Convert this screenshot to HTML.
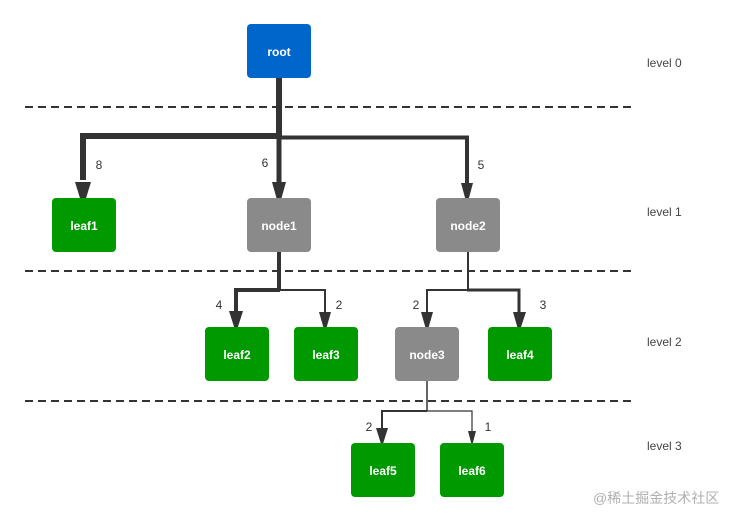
<!DOCTYPE html>
<html><head><meta charset="utf-8"><style>
html,body{margin:0;padding:0;background:#fff;}
svg{display:block;}
.b{font-family:"Liberation Sans",sans-serif;font-weight:bold;font-size:12px;fill:#fff;text-anchor:middle;}
.n{font-family:"Liberation Sans",sans-serif;font-size:12px;fill:#333;text-anchor:middle;}
.l{font-family:"Liberation Sans",sans-serif;font-size:12px;fill:#444;}
</style></head><body>
<svg width="750" height="521" viewBox="0 0 750 521" xmlns="http://www.w3.org/2000/svg">
<g stroke="#333" stroke-width="2" stroke-dasharray="8,5" fill="none">
<line x1="25" y1="107" x2="632" y2="107"/>
<line x1="25" y1="271" x2="632" y2="271"/>
<line x1="25" y1="401" x2="632" y2="401"/>
</g>
<g fill="none" stroke="#333" stroke-linejoin="miter">
<!-- root -->
<path d="M279 78 V136" stroke-width="6"/>
<path d="M282 136 H83 V180" stroke-width="6"/>
<path d="M279 136 V182" stroke-width="5"/>
<path d="M279 137.5 H467 V184" stroke-width="4"/>
<!-- node1 -->
<path d="M279 252 V290" stroke-width="4"/>
<path d="M280 290 H236 V312" stroke-width="4"/>
<path d="M279 290 H325 V313" stroke-width="2"/>
<!-- node2 -->
<path d="M468 252 V290" stroke-width="2"/>
<path d="M468 290 H427 V313" stroke-width="2"/>
<path d="M467 290 H519 V313" stroke-width="3"/>
<!-- node3 -->
<path d="M427 381 V411" stroke-width="1.5"/>
<path d="M427 411 H382 V430" stroke-width="2"/>
<path d="M427 411 H472 V432" stroke-width="1.2"/>
</g>
<g fill="#333">
<polygon points="75,182 91,182 83,208"/>
<polygon points="272,182 286,182 279,207"/>
<polygon points="461,183 473,183 467,205"/>
<polygon points="229,311 243,311 236,333"/>
<polygon points="319,312 331,312 325,333"/>
<polygon points="421,312 433,312 427,333"/>
<polygon points="513,312 526,312 519,333"/>
<polygon points="376,428 388,428 382,447"/>
<polygon points="468,431 476,431 472,446"/>
</g>
<g>
<rect x="247" y="24" width="64" height="54" rx="4" fill="#0066cc"/>
<text class="b" x="279" y="56">root</text>
<rect x="52" y="198" width="64" height="54" rx="4" fill="#009900"/>
<text class="b" x="84" y="230">leaf1</text>
<rect x="247" y="198" width="64" height="54" rx="4" fill="#8a8a8a"/>
<text class="b" x="279" y="230">node1</text>
<rect x="436" y="198" width="64" height="54" rx="4" fill="#8a8a8a"/>
<text class="b" x="468" y="230">node2</text>
<rect x="205" y="327" width="64" height="54" rx="4" fill="#009900"/>
<text class="b" x="237" y="359">leaf2</text>
<rect x="294" y="327" width="64" height="54" rx="4" fill="#009900"/>
<text class="b" x="326" y="359">leaf3</text>
<rect x="395" y="327" width="64" height="54" rx="4" fill="#8a8a8a"/>
<text class="b" x="427" y="359">node3</text>
<rect x="488" y="327" width="64" height="54" rx="4" fill="#009900"/>
<text class="b" x="520" y="359">leaf4</text>
<rect x="351" y="443" width="64" height="54" rx="4" fill="#009900"/>
<text class="b" x="383" y="475">leaf5</text>
<rect x="440" y="443" width="64" height="54" rx="4" fill="#009900"/>
<text class="b" x="472" y="475">leaf6</text>
</g>
<g>
<text class="n" x="99" y="169">8</text>
<text class="n" x="265" y="167">6</text>
<text class="n" x="481" y="169">5</text>
<text class="n" x="219" y="309">4</text>
<text class="n" x="339" y="309">2</text>
<text class="n" x="416" y="309">2</text>
<text class="n" x="543" y="309">3</text>
<text class="n" x="369" y="431">2</text>
<text class="n" x="488" y="431">1</text>
</g>
<g>
<text class="l" x="647" y="67">level 0</text>
<text class="l" x="647" y="216">level 1</text>
<text class="l" x="647" y="346">level 2</text>
<text class="l" x="647" y="450">level 3</text>
</g>
<text x="593" y="503" style="font-family:'Liberation Sans','Noto Sans CJK SC',sans-serif;font-size:14px;fill:#b0b0b0;">@稀土掘金技术社区</text>
</svg>
</body></html>
